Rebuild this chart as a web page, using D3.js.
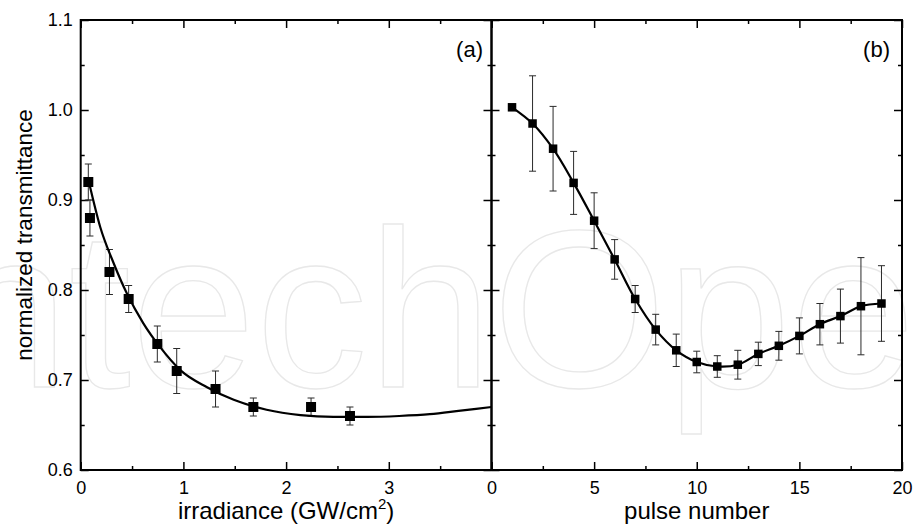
<!DOCTYPE html>
<html>
<head>
<meta charset="utf-8">
<script src="https://cdn.jsdelivr.net/npm/d3@7"></script>
<style>
  body { margin: 0; background: #fff; }
  svg { display: block; font-family: "Liberation Sans", Arial, sans-serif; }
</style>
</head>
<body>
<svg id="chart" width="914" height="529"></svg>
<script>
// panel (a): irradiance scan
const irrX = [0.074, 0.09, 0.28, 0.467, 0.746, 0.935, 1.313, 1.681, 2.243, 2.622];
const irrY = [0.92, 0.88, 0.82, 0.79, 0.74, 0.71, 0.69, 0.67, 0.67, 0.66];
const irrErr = [0.02, 0.02, 0.025, 0.015, 0.02, 0.025, 0.02, 0.01, 0.01, 0.01];
// fitted curve
const fitX = [0.08, 0.19, 0.32, 0.45, 0.61, 0.77, 0.97, 1.23, 1.49, 1.81, 2.14, 2.46, 2.79, 3.1, 3.4, 3.7, 4.0];
const fitY = [0.920, 0.870, 0.830, 0.796, 0.763, 0.737, 0.711, 0.692, 0.678, 0.667, 0.661, 0.659, 0.659, 0.660, 0.662, 0.666, 0.670];

// panel (b): pulse number
const pulseX = d3.range(1, 20);
const pulseY = [1.003, 0.985, 0.957, 0.919, 0.877, 0.834, 0.790, 0.756, 0.733, 0.720, 0.715, 0.717, 0.729, 0.738, 0.749, 0.762, 0.771, 0.782, 0.785];
const pulseErr = [0, 0.053, 0.047, 0.035, 0.031, 0.022, 0.015, 0.017, 0.018, 0.012, 0.012, 0.016, 0.013, 0.016, 0.02, 0.023, 0.03, 0.054, 0.042];

const yTicks = [0.6, 0.7, 0.8, 0.9, 1.0, 1.1];
const yMinor = [0.65, 0.75, 0.85, 0.95, 1.05];
const irrTicks = [0, 1, 2, 3];
const irrMinor = [0.5, 1.5, 2.5, 3.5];
const pulseTicks = [0, 5, 10, 15, 20];
const pulseMinor = [2.5, 7.5, 12.5, 17.5];

const svg = d3.select("#chart");
const top_ = 20, bottom = 470;
const left = 80.7, mid = 491.5, right = 902;

const y = d3.scaleLinear().domain([0.6, 1.1]).range([bottom, top_]);
const xa = d3.scaleLinear().domain([0, 4]).range([left, mid]);
const xb = d3.scaleLinear().domain([0, 20]).range([mid, right]);

// watermark
svg.append("text")
   .attr("x", -118)
   .attr("y", 387)
   .attr("font-size", 224)
   .attr("fill", "none")
   .attr("stroke", "#e8e8e8")
   .attr("stroke-width", 1.3)
   .text("IntechOpen");

const axisG = (axis, tx, ty) => {
    const g = svg.append("g")
                 .attr("transform", `translate(${tx}, ${ty})`)
                 .call(axis);
    g.select(".domain").remove();
    g.selectAll("line").attr("stroke", "#000").attr("stroke-width", 1.5);
    g.selectAll("text").attr("font-size", 18).attr("fill", "#000")
     .attr("font-family", "Liberation Sans, Arial, sans-serif");
    return g;
};

const noLabel = () => "";

const drawPanel = (x, ticks, minor) => {
    // bottom
    axisG(d3.axisBottom(x).tickValues(ticks).tickSize(-8).tickPadding(11).tickFormat(d3.format("d")), 0, bottom);
    axisG(d3.axisBottom(x).tickValues(minor).tickSize(-4).tickFormat(noLabel), 0, bottom);
    // top
    axisG(d3.axisTop(x).tickValues(ticks).tickSize(-8).tickFormat(noLabel), 0, top_);
    axisG(d3.axisTop(x).tickValues(minor).tickSize(-4).tickFormat(noLabel), 0, top_);
    const [x0, x1] = x.range();
    axisG(d3.axisLeft(y).tickValues(yTicks).tickSize(-8).tickFormat(noLabel), x0, 0);
    axisG(d3.axisLeft(y).tickValues(yMinor).tickSize(-4).tickFormat(noLabel), x0, 0);
    axisG(d3.axisRight(y).tickValues(yTicks).tickSize(-8).tickFormat(noLabel), x1, 0);
    axisG(d3.axisRight(y).tickValues(yMinor).tickSize(-4).tickFormat(noLabel), x1, 0);
    svg.append("rect")
       .attr("x", x0).attr("y", top_)
       .attr("width", x1 - x0).attr("height", bottom - top_)
       .attr("fill", "none").attr("stroke", "#000").attr("stroke-width", 2);
};

drawPanel(xa, irrTicks.concat([4]), irrMinor);
drawPanel(xb, pulseTicks, pulseMinor);

// the "4" of panel (a) sits under the "0" of panel (b)
svg.selectAll("text").filter(function () { return this.textContent === "4"; }).remove();

// y tick labels
axisG(d3.axisLeft(y).tickValues(yTicks).tickSize(0).tickPadding(8).tickFormat(d3.format(".1f")), left, 0);

const errBars = (x, xs, ys, es, cap) => {
    const g = svg.append("g").attr("stroke", "#2a2a2a").attr("stroke-width", 1);
    const d = xs.map((v, i) => ({x: v, y: ys[i], e: es[i]})).filter(p => p.e > 0);
    g.selectAll(".v").data(d).enter().append("line")
     .attr("x1", p => x(p.x)).attr("x2", p => x(p.x))
     .attr("y1", p => y(p.y - p.e)).attr("y2", p => y(p.y + p.e));
    g.selectAll(".t").data(d).enter().append("line")
     .attr("x1", p => x(p.x) - cap).attr("x2", p => x(p.x) + cap)
     .attr("y1", p => y(p.y + p.e)).attr("y2", p => y(p.y + p.e));
    g.selectAll(".b").data(d).enter().append("line")
     .attr("x1", p => x(p.x) - cap).attr("x2", p => x(p.x) + cap)
     .attr("y1", p => y(p.y - p.e)).attr("y2", p => y(p.y - p.e));
};

const squares = (x, xs, ys, s) => {
    svg.append("g").selectAll("rect")
       .data(xs.map((v, i) => [v, ys[i]]))
       .enter().append("rect")
       .attr("x", d => x(d[0]) - s / 2)
       .attr("y", d => y(d[1]) - s / 2)
       .attr("width", s).attr("height", s)
       .attr("fill", "#000");
};

// panel (a)
errBars(xa, irrX, irrY, irrErr, 3.5);
svg.append("path")
   .datum(fitX.map((v, i) => [v, fitY[i]]))
   .attr("fill", "none").attr("stroke", "#000").attr("stroke-width", 2.2)
   .attr("d", d3.line().x(d => xa(d[0])).y(d => y(d[1])).curve(d3.curveMonotoneX));
squares(xa, irrX, irrY, 10);

// panel (b)
errBars(xb, pulseX, pulseY, pulseErr, 3.5);
svg.append("path")
   .datum(pulseX.map((v, i) => [v, pulseY[i]]))
   .attr("fill", "none").attr("stroke", "#000").attr("stroke-width", 2.2)
   .attr("d", d3.line().x(d => xb(d[0])).y(d => y(d[1])).curve(d3.curveCatmullRom));
squares(xb, pulseX, pulseY, 8.5);

// panel labels
svg.append("text").attr("x", 483).attr("y", 57).attr("font-size", 22)
   .attr("text-anchor", "end").text("(a)");
svg.append("text").attr("x", 890).attr("y", 57).attr("font-size", 22)
   .attr("text-anchor", "end").text("(b)");

// axis titles
const xt = svg.append("text").attr("x", (left + mid) / 2).attr("y", 519)
              .attr("font-size", 24).attr("text-anchor", "middle");
xt.append("tspan").text("irradiance (GW/cm");
xt.append("tspan").attr("font-size", 15).attr("dy", -10).text("2");
xt.append("tspan").attr("dy", 10).text(")");

svg.append("text").attr("x", (mid + right) / 2).attr("y", 519)
   .attr("font-size", 24).attr("text-anchor", "middle").text("pulse number");

svg.append("text")
   .attr("transform", "translate(32, 235) rotate(-90)")
   .attr("font-size", 22.5).attr("text-anchor", "middle")
   .text("normalized transmittance");
</script>
</body>
</html>
